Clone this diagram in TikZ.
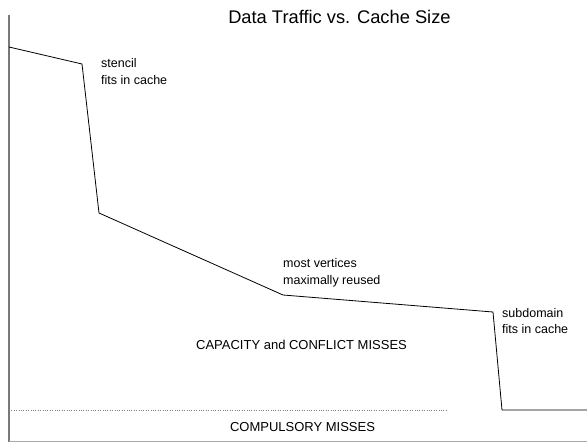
\documentclass[tikz,border=0pt]{standalone}
\usepackage{fontspec}
\setmainfont{Liberation Sans}
\usetikzlibrary{positioning,calc}
\definecolor{AxisGray}{RGB}{120,120,120}
\definecolor{BaseGray}{RGB}{170,170,170}

\begin{document}
\begin{tikzpicture}[x=1pt,y=-1pt,
    note/.style={align=left,anchor=base west,inner sep=0pt,font=\fontsize{12.5pt}{16.5pt}\selectfont},
    region/.style={inner sep=0pt,anchor=base,font=\fontsize{13pt}{15pt}\selectfont}]
    \useasboundingbox (0,0) rectangle (587,444);
    % axes
    \draw[AxisGray,line width=1.2pt] (9,15) -- (9,441.5);
    \draw[BaseGray,line width=1pt] (9,441.5) -- (587,441.5);
    \draw[gray,dotted] (9,410) -- (447,410);
    % corners of the traffic curve
    \coordinate (start) at (9,47);
    \coordinate (stencil) at (82,64);
    \coordinate (drop) at (99,213);
    \coordinate (vertices) at (283,295);
    \coordinate (subdomain) at (493,312);
    \coordinate (floor) at (502,410);
    \coordinate (end) at (587,410);
    \draw[line width=0.8pt] (start) -- (stencil) -- (drop) -- (vertices)
        -- (subdomain) -- (floor) -- (end);
    % title
    \draw (342,24) node[anchor=base] (title) {
        {\fontsize{18.3pt}{20pt}\selectfont
    Data Traffic vs. Cache Size
        }
    };
    % labels (anchored at the last line)
    \node[note] (stencilnote) at (101,84.5) {stencil\\fits in cache};
    \node[note] (verticesnote) at (283,284) {most vertices\\maximally reused};
    \node[note] (subdomainnote) at (502,333.5) {subdomain\\fits in cache};
    \node[region] (capacity) at (301.5,349) {CAPACITY and CONFLICT MISSES};
    \node[region] (compulsory) at (302.5,431) {COMPULSORY MISSES};
\end{tikzpicture}
\end{document}
